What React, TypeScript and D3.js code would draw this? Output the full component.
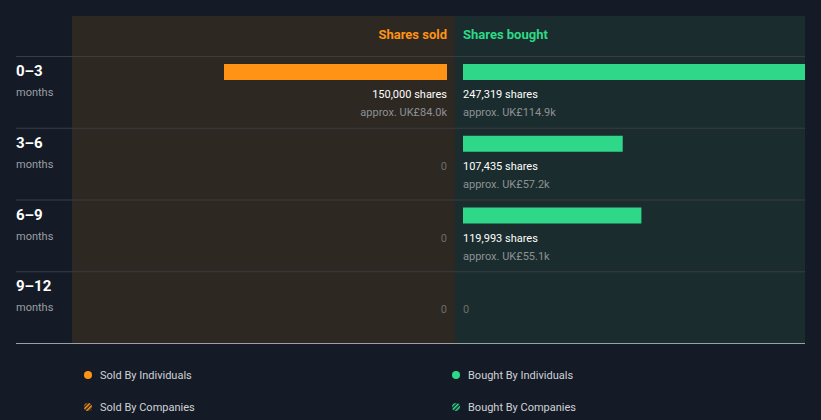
import React, { useEffect, useRef } from 'react';
import * as d3 from 'd3';

const periods = ['0–3', '3–6', '6–9', '9–12'];
const sharesSold = [150000, 0, 0, 0];
const sharesBought = [247319, 107435, 119993, 0];
const soldValue = ['UK£84.0k', '', '', ''];
const boughtValue = ['UK£114.9k', 'UK£57.2k', 'UK£55.1k', ''];
const legendItems = [
    { label: 'Sold By Individuals', color: '#ff9315', striped: false },
    { label: 'Bought By Individuals', color: '#2ed888', striped: false },
    { label: 'Sold By Companies', color: '#ff9315', striped: true },
    { label: 'Bought By Companies', color: '#2ed888', striped: true },
];

const W = 821;
const H = 420;
const FONT = 'Roboto, "Noto Sans", sans-serif';

const Chart: React.FC = () => {
    const svgRef = useRef<SVGSVGElement>(null);

    useEffect(() => {
        document.body.style.margin = '0';
        document.body.style.background = '#151b26';
        if (!svgRef.current) return;
        const svg = d3.select(svgRef.current);
        svg.selectAll('*').remove();

        const left = 72, mid = 455, right = 805, top = 16, headerH = 40, bottom = 343;

        const y = d3.scaleBand<string>()
            .domain(periods)
            .range([top + headerH, bottom]);

        // one scale for both sides, the widest bar gets cut at the panel edge
        const x = d3.scaleLinear()
            .domain([0, 150000])
            .range([0, 223]);
        const maxBought = right - mid - 8;

        const defs = svg.append('defs');
        legendItems.filter(d => d.striped).forEach((d, i) => {
            const p = defs.append('pattern')
                .attr('id', 'stripe' + i)
                .attr('patternUnits', 'userSpaceOnUse')
                .attr('width', 3).attr('height', 3)
                .attr('patternTransform', 'rotate(45)');
            p.append('rect').attr('width', 1.6).attr('height', 3).attr('fill', d.color);
        });

        svg.append('rect').attr('x', left).attr('y', top).attr('width', mid - left).attr('height', bottom - top).attr('fill', '#2d2822');
        svg.append('rect').attr('x', mid).attr('y', top).attr('width', right - mid).attr('height', bottom - top).attr('fill', '#1a2c2d');

        svg.append('text').attr('x', mid - 8).attr('y', top + 23).attr('text-anchor', 'end')
            .attr('fill', '#ff9315').attr('font-size', 13).attr('font-weight', 'bold').attr('font-family', FONT)
            .text('Shares sold');
        svg.append('text').attr('x', mid + 8).attr('y', top + 23)
            .attr('fill', '#2ed888').attr('font-size', 13).attr('font-weight', 'bold').attr('font-family', FONT)
            .text('Shares bought');

        // separators
        svg.selectAll('line.sep')
            .data(periods)
            .join('line')
            .attr('class', 'sep')
            .attr('x1', 16).attr('x2', right)
            .attr('y1', d => y(d)! + 0.5).attr('y2', d => y(d)! + 0.5)
            .attr('stroke', '#3a3d40').attr('stroke-width', 1);
        svg.append('line').attr('x1', 16).attr('x2', right).attr('y1', bottom + 0.5).attr('y2', bottom + 0.5)
            .attr('stroke', '#9aa0a6').attr('stroke-width', 1);

        const rows = svg.selectAll('g.row')
            .data(periods)
            .join('g')
            .attr('class', 'row')
            .attr('transform', d => `translate(0,${y(d)})`);

        rows.append('text').attr('x', 16).attr('y', 20)
            .attr('fill', '#ffffff').attr('font-size', 15).attr('font-weight', 'bold').attr('font-family', FONT)
            .text(d => d);
        rows.append('text').attr('x', 16).attr('y', 40)
            .attr('fill', '#9a9ea4').attr('font-size', 11).attr('font-family', FONT)
            .text('months');

        const fmt = d3.format(',');

        rows.each(function (d, i) {
            const g = d3.select(this);
            const s = sharesSold[i];
            const b = sharesBought[i];
            if (s > 0) {
                g.append('rect').attr('x', mid - 8 - x(s)).attr('y', 8).attr('width', x(s)).attr('height', 16).attr('fill', '#ff9315');
                g.append('text').attr('x', mid - 8).attr('y', 42).attr('text-anchor', 'end')
                    .attr('fill', '#ffffff').attr('font-size', 11).attr('font-family', FONT).text(fmt(s) + ' shares');
                g.append('text').attr('x', mid - 8).attr('y', 60).attr('text-anchor', 'end')
                    .attr('fill', '#8e9196').attr('font-size', 11).attr('font-family', FONT).text('approx. ' + soldValue[i]);
            } else {
                g.append('text').attr('x', mid - 8).attr('y', 42).attr('text-anchor', 'end')
                    .attr('fill', '#6c6c6c').attr('font-size', 11).attr('font-family', FONT).text('0');
            }
            if (b > 0) {
                g.append('rect').attr('x', mid + 8).attr('y', 8).attr('width', Math.min(x(b), maxBought)).attr('height', 16)
                    .attr('fill', '#2ed888');
                g.append('text').attr('x', mid + 8).attr('y', 42)
                    .attr('fill', '#ffffff').attr('font-size', 11).attr('font-family', FONT).text(fmt(b) + ' shares');
                g.append('text').attr('x', mid + 8).attr('y', 60)
                    .attr('fill', '#8e9196').attr('font-size', 11).attr('font-family', FONT).text('approx. ' + boughtValue[i]);
            } else {
                g.append('text').attr('x', mid + 8).attr('y', 42)
                    .attr('fill', '#6c6c6c').attr('font-size', 11).attr('font-family', FONT).text('0');
            }
        });

        // legend
        const lx = [88, 456];
        const ly = [375, 407];
        let stripeIdx = 0;
        legendItems.forEach((d, i) => {
            const cx = lx[i % 2];
            const cy = ly[Math.floor(i / 2)];
            let fill = d.color;
            if (d.striped) { fill = `url(#stripe${stripeIdx})`; stripeIdx++; }
            svg.append('circle').attr('cx', cx).attr('cy', cy).attr('r', 4).attr('fill', fill);
            svg.append('text').attr('x', cx + 12).attr('y', cy + 4)
                .attr('fill', '#cfd2d6').attr('font-size', 11).attr('font-family', FONT).text(d.label);
        });
    }, []);

    return <svg ref={svgRef} width={W} height={H} style={{ display: 'block', background: '#151b26' }} />;
};

export default function App() {
    return <Chart />;
}
